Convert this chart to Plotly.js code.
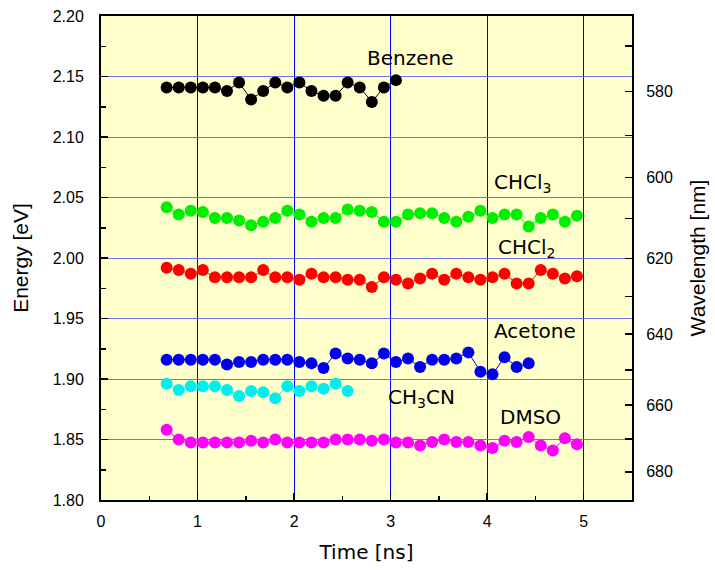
<!DOCTYPE html>
<html>
<head>
<meta charset="utf-8">
<script src="https://cdn.plot.ly/plotly-3.0.1.min.js"></script>
<style>html,body{margin:0;padding:0;background:#fff;}#chart{width:715px;height:570px;}</style>
</head>
<body>
<div id="chart"></div>
<script>
// Time axis (ns) of the measurement points
const times = [0.68, 0.805, 0.93, 1.055, 1.18, 1.305, 1.43, 1.555, 1.68, 1.805,
  1.93, 2.055, 2.18, 2.305, 2.43, 2.555, 2.68, 2.805, 2.93, 3.055,
  3.18, 3.305, 3.43, 3.555, 3.68, 3.805, 3.93, 4.055, 4.18, 4.305,
  4.43, 4.555, 4.68, 4.805, 4.93];

// Energy [eV] per solvent
const benzene = [2.141, 2.141, 2.141, 2.141, 2.141, 2.138, 2.145, 2.131, 2.138, 2.145,
  2.141, 2.145, 2.138, 2.134, 2.134, 2.145, 2.141, 2.129, 2.141, 2.147];
const chcl3 = [2.042, 2.036, 2.039, 2.038, 2.033, 2.033, 2.031, 2.027, 2.030, 2.033,
  2.039, 2.036, 2.030, 2.033, 2.033, 2.040, 2.039, 2.038, 2.030, 2.030,
  2.036, 2.037, 2.037, 2.033, 2.030, 2.034, 2.039, 2.033, 2.036, 2.036,
  2.026, 2.033, 2.036, 2.030, 2.035];
const chcl2 = [1.992, 1.990, 1.987, 1.990, 1.984, 1.984, 1.984, 1.984, 1.990, 1.984,
  1.984, 1.982, 1.987, 1.984, 1.984, 1.982, 1.982, 1.976, 1.984, 1.982,
  1.979, 1.983, 1.987, 1.982, 1.987, 1.984, 1.982, 1.984, 1.987, 1.979,
  1.979, 1.990, 1.987, 1.983, 1.985];
const acetone = [1.916, 1.916, 1.916, 1.916, 1.916, 1.912, 1.914, 1.914, 1.916, 1.916,
  1.916, 1.914, 1.913, 1.909, 1.921, 1.917, 1.916, 1.913, 1.921, 1.914,
  1.917, 1.910, 1.916, 1.916, 1.917, 1.922, 1.906, 1.904, 1.918, 1.910,
  1.913];
const ch3cn = [1.896, 1.891, 1.894, 1.894, 1.894, 1.891, 1.886, 1.890, 1.889, 1.884,
  1.894, 1.890, 1.894, 1.892, 1.896, 1.890];
const dmso = [1.858, 1.850, 1.8475, 1.8475, 1.8475, 1.8475, 1.8475, 1.849, 1.8475, 1.850,
  1.8475, 1.8475, 1.8475, 1.8475, 1.850, 1.850, 1.850, 1.849, 1.850, 1.8475,
  1.8475, 1.845, 1.848, 1.850, 1.848, 1.848, 1.845, 1.843, 1.849, 1.848,
  1.852, 1.845, 1.841, 1.851, 1.846];

// Axis tick labels
const energyTicks = [1.80, 1.85, 1.90, 1.95, 2.00, 2.05, 2.10, 2.15, 2.20];
const wavelengthLabels = [580, 600, 620, 640, 660, 680];
const wavelengthMinor = [570, 590, 610, 630, 650, 670];
const timeTicks = [0, 1, 2, 3, 4, 5];

const hc = 1239.84; // eV*nm, energy <-> wavelength

function series(name, y, color) {
  return {
    type: 'scatter', mode: 'lines+markers', name: name,
    x: times.slice(0, y.length), y: y,
    line: {color: color, width: 1},
    marker: {color: color, size: 12},
    showlegend: false, cliponaxis: false
  };
}

const traces = [
  series('Benzene', benzene, '#000000'),
  series('CHCl3', chcl3, '#00ee00'),
  series('CHCl2', chcl2, '#ff0000'),
  series('Acetone', acetone, '#0000ee'),
  series('CH3CN', ch3cn, '#00eeee'),
  series('DMSO', dmso, '#ff00ff'),
  {type: 'scatter', x: [null], y: [null], yaxis: 'y2', showlegend: false, hoverinfo: 'skip'}
];

const wlVals = wavelengthLabels.concat(wavelengthMinor).map(nm => hc / nm);
const wlText = wavelengthLabels.map(String).concat(wavelengthMinor.map(() => ''));

const tickFont = {family: 'Liberation Sans, Arial, sans-serif', size: 16, color: '#000'};
const annFont = {family: 'DejaVu Sans, sans-serif', size: 20, color: '#000'};

const layout = {
  width: 715, height: 570,
  margin: {l: 101, r: 83, t: 16, b: 70},
  paper_bgcolor: '#ffffff',
  plot_bgcolor: '#ffffcc',
  showlegend: false,
  xaxis: {
    range: [0, 5.5], tickvals: timeTicks, ticktext: timeTicks.map(String),
    ticks: 'inside', ticklen: 7, tickwidth: 1.5, tickcolor: '#000',
    minor: {dtick: 0.5, tick0: 0, ticks: 'inside', ticklen: 4, tickcolor: '#000', showgrid: false},
    showgrid: true, gridcolor: '#0000ff', gridwidth: 1,
    showline: true, linecolor: '#000', linewidth: 2, mirror: true,
    zeroline: false, tickfont: tickFont, ticklabelstandoff: 6,
    title: {text: 'Time [ns]', font: {family: 'DejaVu Sans, sans-serif', size: 20, color: '#000'}, standoff: 16}
  },
  yaxis: {
    range: [1.80, 2.20], tickvals: energyTicks, ticktext: energyTicks.map(v => v.toFixed(2)),
    ticks: 'inside', ticklen: 7, tickwidth: 1.5, tickcolor: '#000',
    minor: {dtick: 0.025, tick0: 1.80, ticks: 'inside', ticklen: 5, tickcolor: '#000', showgrid: false},
    showgrid: true, gridcolor: '#6f6fef', gridwidth: 1,
    showline: true, linecolor: '#000', linewidth: 2,
    zeroline: false, tickfont: tickFont, ticklabelstandoff: 12,
    title: {text: 'Energy [eV]', font: {family: 'Liberation Sans, Arial, sans-serif', size: 21, color: '#000'}, standoff: 18}
  },
  yaxis2: {
    overlaying: 'y', side: 'right', range: [1.80, 2.20],
    tickmode: 'array', tickvals: wlVals, ticktext: wlText,
    ticks: 'inside', ticklen: 7, tickwidth: 1.5, tickcolor: '#000',
    showgrid: false, zeroline: false,
    showline: true, linecolor: '#000', linewidth: 2,
    tickfont: tickFont, ticklabelstandoff: 9,
    title: {text: 'Wavelength [nm]', font: {family: 'Liberation Sans, Arial, sans-serif', size: 21, color: '#000'}, standoff: 18}
  },
  annotations: [
    {x: 3.2, y: 2.165, text: 'Benzene'},
    {x: 4.37, y: 2.062, text: 'CHCl<sub>3</sub>'},
    {x: 4.41, y: 2.008, text: 'CHCl<sub>2</sub>'},
    {x: 4.50, y: 1.940, text: 'Acetone'},
    {x: 3.32, y: 1.884, text: 'CH<sub>3</sub>CN'},
    {x: 4.45, y: 1.869, text: 'DMSO'}
  ].map(a => Object.assign({xref: 'x', yref: 'y', showarrow: false, font: annFont}, a))
};

Plotly.newPlot('chart', traces, layout, {displayModeBar: false, staticPlot: true});
</script>
</body>
</html>
